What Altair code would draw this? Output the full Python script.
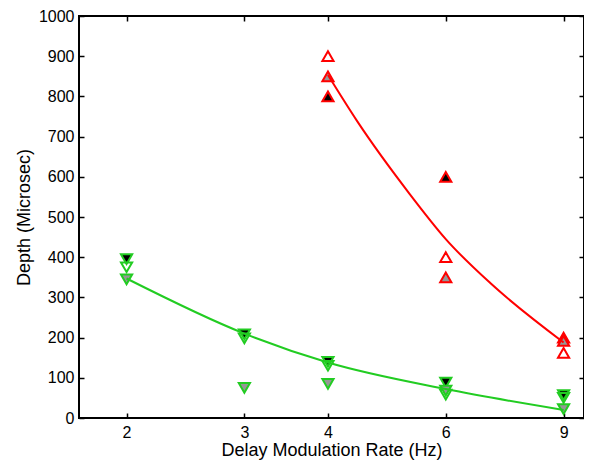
import altair as alt
import pandas as pd

# x categories (Hz)
rates = [2, 3, 4, 6, 9]
# red series (triangle-up)
red_black = [None, None, 800, 600, 200]
red_open = [None, None, 900, 400, 162]
red_grey = [None, None, 850, 350, 192]
# green series (triangle-down)
green_black = [395, 208, 140, 88, 57]
green_open = [375, 198, 130, 58, 50]
green_grey = [345, 75, 85, 68, 22]

# fitted curves
red_curve_x = [4, 4.42, 5.3, 6.0, 7.0, 9]
red_curve_y = [853, 739, 557, 445, 335, 188]
green_curve_x = [2, 3, 4, 6, 9]
green_curve_y = [347, 210, 138, 72, 20]

y_ticks = list(range(0, 1001, 100))

RED = "#ff0000"
GREEN = "#22cc22"
GREY = "#969696"
FONT = "Liberation Sans"

xscale = alt.Scale(type="log", domain=[1.698, 9.655], nice=False, zero=False)
yscale = alt.Scale(domain=[0, 1000], nice=False, zero=False)

common_axis = dict(domain=False, grid=False, tickSize=5, tickWidth=1.5,
                   tickColor="black", offset=-5, labelFont=FONT,
                   labelFontSize=16, labelColor="black", titleFont=FONT,
                   titleFontSize=18, titleFontWeight="normal", titleColor="black")

x_bottom = alt.Axis(orient="bottom", values=rates, format="d", labelPadding=6,
                    title="Delay Modulation Rate (Hz)", titlePadding=1, **common_axis)
y_left = alt.Axis(orient="left", values=y_ticks, format="d", labelPadding=5,
                  title="Depth (Microsec)", titlePadding=5, **common_axis)
x_top = alt.Axis(orient="top", values=rates, labels=False, title=None, **common_axis)
y_right = alt.Axis(orient="right", values=y_ticks, labels=False, title=None, **common_axis)


def frame(xs, ys):
    return pd.DataFrame({"rate": xs, "depth": ys}).dropna()


layers = []
first = True
series = [
    ("triangle-up", RED, [("black", red_black), ("open", red_open), ("grey", red_grey)]),
    ("triangle-down", GREEN, [("black", green_black), ("open", green_open), ("grey", green_grey)]),
]
for shape, col, fills in series:
    for kind, vals in fills:
        df = frame(rates, vals)
        if kind == "open":
            mk = alt.Chart(df).mark_point(shape=shape, size=125, filled=False,
                                          stroke=col, strokeWidth=2, opacity=1)
        else:
            mk = alt.Chart(df).mark_point(shape=shape, size=125, filled=True,
                                          fill=("black" if kind == "black" else GREY),
                                          stroke=col, strokeWidth=2, opacity=1,
                                          fillOpacity=1)
        if first:
            enc = mk.encode(x=alt.X("rate:Q", scale=xscale, axis=x_bottom),
                            y=alt.Y("depth:Q", scale=yscale, axis=y_left))
            first = False
        else:
            enc = mk.encode(x=alt.X("rate:Q", scale=xscale, axis=None),
                            y=alt.Y("depth:Q", scale=yscale, axis=None))
        layers.append(enc)

red_line = alt.Chart(frame(red_curve_x, red_curve_y)).mark_line(
    color=RED, strokeWidth=2, interpolate="monotone").encode(
    x=alt.X("rate:Q", scale=xscale, axis=x_top),
    y=alt.Y("depth:Q", scale=yscale, axis=y_right))
green_line = alt.Chart(frame(green_curve_x, green_curve_y)).mark_line(
    color=GREEN, strokeWidth=2, interpolate="monotone").encode(
    x=alt.X("rate:Q", scale=xscale, axis=None),
    y=alt.Y("depth:Q", scale=yscale, axis=None))

chart = alt.layer(*layers, red_line, green_line).resolve_axis(
    x="independent", y="independent"
).properties(
    width=505, height=402,
    autosize=alt.AutoSizeParams(type="none"),
    padding={"left": 71, "top": 8, "right": 0, "bottom": 45},
).configure_view(stroke="black", strokeWidth=2)

chart.save("out.html", embed_options={"renderer": "svg", "actions": False})
